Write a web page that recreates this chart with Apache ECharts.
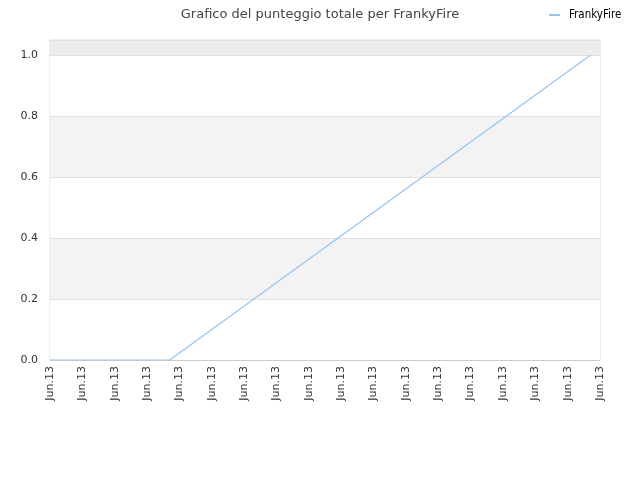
<!DOCTYPE html>
<html>
<head>
<meta charset="utf-8">
<script src="https://cdn.jsdelivr.net/npm/echarts@6/dist/echarts.min.js"></script>
<style>html,body{margin:0;padding:0;background:#fff}#c{width:640px;height:480px}</style>
</head>
<body>
<div id="c"></div>
<script>
var titleText = 'Grafico del punteggio totale per FrankyFire';
var seriesName = 'FrankyFire';
var tickLabels = ['Jun.13','Jun.13','Jun.13','Jun.13','Jun.13','Jun.13','Jun.13','Jun.13','Jun.13','Jun.13','Jun.13','Jun.13','Jun.13','Jun.13','Jun.13','Jun.13','Jun.13','Jun.13'];
var xPositions = [0, 3.7, 16.7];
var scores = [0, 0, 1.0];

var data = xPositions.map(function (x, i) { return [x, scores[i]]; });
var chart = echarts.init(document.getElementById('c'));
chart.setOption({
  animation: false,
  backgroundColor: '#fff',
  title: {
    text: titleText, left: 'center', top: 3,
    textStyle: { fontFamily: 'DejaVu Sans', fontSize: 13, fontWeight: 'normal', color: '#444' }
  },
  legend: {
    left: 549, top: 9, itemWidth: 11, itemHeight: 2, itemGap: 5, padding: 0,
    data: [{ name: seriesName, icon: 'rect' }],
    textStyle: { fontFamily: 'DejaVu Sans Condensed', fontSize: 11.5, color: '#000', padding: [0,0,0,4] }
  },
  grid: { left: 50, right: 40, top: 40, bottom: 120, show: true, borderColor: '#dcdcdc', borderWidth: 1 },
  xAxis: {
    type: 'value', min: 0, max: tickLabels.length - 1, interval: 1,
    axisLine: { show: true, lineStyle: { color: '#ccc' } },
    axisTick: { show: false },
    splitLine: { show: false },
    axisLabel: {
      rotate: 90, margin: 6, fontFamily: 'DejaVu Sans', fontSize: 11, color: '#333',
      formatter: function (v) { return tickLabels[Math.round(v)] || ''; }
    }
  },
  yAxis: {
    type: 'value', min: 0, max: 1.05, interval: 0.2,
    axisLine: { show: false }, axisTick: { show: false },
    axisLabel: {
      fontFamily: 'DejaVu Sans', fontSize: 11, color: '#333', margin: 12,
      showMaxLabel: false,
      formatter: function (v) { return Math.abs(v * 5 - Math.round(v * 5)) < 1e-6 ? v.toFixed(1) : ''; }
    },
    splitLine: { show: true, lineStyle: { color: '#e0e0e0' } },
    splitArea: { show: true, areaStyle: { color: ['#ffffff', '#f3f3f3', '#ffffff', '#f3f3f3', '#ffffff', '#ededed'] } }
  },
  series: [{
    name: seriesName, type: 'line', data: data,
    showSymbol: false, symbol: 'none',
    lineStyle: { color: '#94c4f0', width: 1.2 },
    itemStyle: { color: '#94c4f0' }
  }]
});
</script>
</body>
</html>
